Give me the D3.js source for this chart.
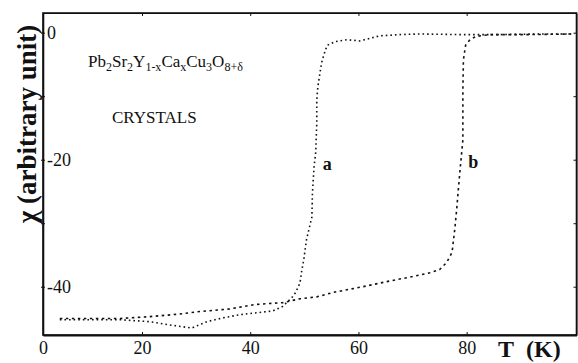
<!DOCTYPE html>
<html>
<head>
<meta charset="utf-8">
<script src="https://cdn.jsdelivr.net/npm/d3@7/dist/d3.min.js"></script>
<style>
  body { margin: 0; background: #fff; }
  svg { display: block; font-family: "Liberation Serif", "Times New Roman", serif; }
  .axis path, .axis line { stroke: #111; }
  .axis text { font-family: "Liberation Serif", serif; font-size: 18px; fill: #111; }
</style>
</head>
<body>
<svg width="578" height="363"></svg>
<script>
// temperatuur (K) en susceptibiliteit
var tempA = [3.4, 7.5, 15.6, 21.5, 25.0, 29.2, 32.0, 35.0, 38.1, 41.2, 44.2, 46.0, 47.7, 48.4, 49.2, 49.5, 49.9, 50.4, 51.4, 51.5, 51.8, 52.1, 52.3, 52.3, 52.5, 52.9, 53.2, 53.6, 54.2, 55.7, 57.9, 60.2, 62.1, 63.9, 67.6, 71.3, 78.7, 86.1, 93.5, 99.9];
var chiA  = [-45.2, -45.2, -45.2, -45.5, -46.0, -46.5, -45.5, -44.9, -44.4, -44.1, -43.8, -43.1, -41.7, -40.9, -39.4, -37.6, -35.7, -32.6, -29.0, -25.2, -21.1, -18.9, -14.2, -10.6, -8.5, -6.3, -4.7, -3.5, -2.0, -1.4, -1.1, -1.3, -0.9, -0.5, -0.3, -0.2, -0.3, -0.3, -0.2, -0.2];

var tempB = [3.4, 9.5, 15.6, 21.5, 27.0, 30.7, 36.2, 40.9, 46.0, 49.2, 52.3, 55.3, 60.8, 65.2, 70.0, 73.2, 75.0, 76.3, 77.3, 77.8, 78.2, 78.5, 78.9, 79.3, 79.3, 79.3, 79.4, 79.8, 80.6, 81.7, 84.2, 91.6, 99.9];
var chiB  = [-45.0, -45.0, -45.0, -44.7, -44.3, -43.9, -43.5, -42.8, -42.5, -41.9, -41.6, -40.9, -40.0, -39.2, -38.4, -37.8, -37.3, -36.2, -34.6, -31.0, -27.4, -24.3, -20.5, -16.9, -13.2, -9.0, -4.3, -2.0, -1.1, -0.6, -0.3, -0.3, -0.2];

var xTicks = [0, 20, 40, 60, 80];
var yTicks = [0, -10, -20, -30, -40];
var yTickLabels = ["0", "", "-20", "", "-40"];

var svg = d3.select("svg");

// schaal van de oude scan is niet helemaal lineair onder 20 K
var x = d3.scaleLinear().domain([0, 20, 100.3]).range([43, 142, 576.5]);
var y = d3.scaleLinear().domain([3.1, -47.6]).range([13, 335]);

// kader
svg.append("rect")
    .attr("x", x.range()[0]).attr("y", 13)
    .attr("width", 576.5 - 43).attr("height", 335 - 13)
    .attr("fill", "none").attr("stroke", "#111").attr("stroke-width", 1.6);

// onderste as
svg.append("g")
    .attr("class", "axis")
    .attr("transform", "translate(0,335)")
    .call(d3.axisBottom(x).tickValues(xTicks).tickSizeInner(-3).tickSizeOuter(0).tickPadding(6))
    .call(function(g) { g.select(".domain").attr("stroke-width", 2); });

// bovenste as, alleen streepjes
svg.append("g")
    .attr("class", "axis")
    .attr("transform", "translate(0,13)")
    .call(d3.axisTop(x).tickValues(xTicks).tickSizeInner(-3).tickSizeOuter(0).tickFormat(""));

// linker as, labels staan binnen het kader
svg.append("g")
    .attr("class", "axis")
    .attr("transform", "translate(43,0)")
    .call(d3.axisLeft(y).tickValues(yTicks).tickSizeInner(3).tickSizeOuter(0)
      .tickFormat(function(d, i) { return yTickLabels[i]; }))
    .call(function(g) {
      g.selectAll(".tick line").attr("x1", -2).attr("x2", 2);
      g.selectAll(".tick text").attr("x", 4).attr("text-anchor", "start");
      g.select(".domain").attr("stroke-width", 1.6);
    });

// rechter as
svg.append("g")
    .attr("class", "axis")
    .attr("transform", "translate(576.5,0)")
    .call(d3.axisRight(y).tickValues(yTicks).tickSizeInner(-3).tickSizeOuter(0).tickFormat(""));

var line = d3.line()
    .x(function(d) { return x(d[0]); })
    .y(function(d) { return y(d[1]); });

svg.append("path")
    .datum(d3.zip(tempA, chiA))
    .attr("d", line)
    .attr("fill", "none")
    .attr("stroke", "#111")
    .attr("stroke-width", 1.6)
    .attr("stroke-dasharray", "1.6,3");

svg.append("path")
    .datum(d3.zip(tempB, chiB))
    .attr("d", line)
    .attr("fill", "none")
    .attr("stroke", "#111")
    .attr("stroke-width", 1.6)
    .attr("stroke-dasharray", "2.5,3.5");

// aslabels
svg.append("text")
    .attr("transform", "translate(36,124) rotate(-90)")
    .attr("text-anchor", "middle")
    .attr("font-size", 27)
    .attr("font-weight", "bold")
    .attr("fill", "#111")
    .text("χ (arbitrary unit)");

var tk = svg.append("text")
    .attr("x", 498).attr("y", 357)
    .attr("font-size", 24)
    .attr("font-weight", "bold")
    .attr("fill", "#111");
tk.append("tspan").text("T");
tk.append("tspan").attr("dx", 12).text("(K)");

// formule
var f = svg.append("text")
    .attr("x", 88).attr("y", 67)
    .attr("font-size", 17)
    .attr("fill", "#111");
var parts = [["Pb", 0], ["2", 1], ["Sr", 0], ["2", 1], ["Y", 0], ["1-x", 1], ["Ca", 0], ["x", 1], ["Cu", 0], ["3", 1], ["O", 0], ["8+δ", 1]];
var prev = 0;
parts.forEach(function(p) {
  var s = p[1] ? 4 : 0;
  f.append("tspan")
      .attr("dy", s - prev)
      .attr("font-size", p[1] ? 12 : 17)
      .text(p[0]);
  prev = s;
});

svg.append("text")
    .attr("x", 112).attr("y", 123)
    .attr("font-size", 17)
    .attr("fill", "#111")
    .text("CRYSTALS");

svg.append("text")
    .attr("x", x(53.4)).attr("y", 170)
    .attr("font-size", 18).attr("font-weight", "bold").attr("fill", "#111")
    .text("a");

svg.append("text")
    .attr("x", x(80.3)).attr("y", 168)
    .attr("font-size", 18).attr("font-weight", "bold").attr("fill", "#111")
    .text("b");
</script>
</body>
</html>
